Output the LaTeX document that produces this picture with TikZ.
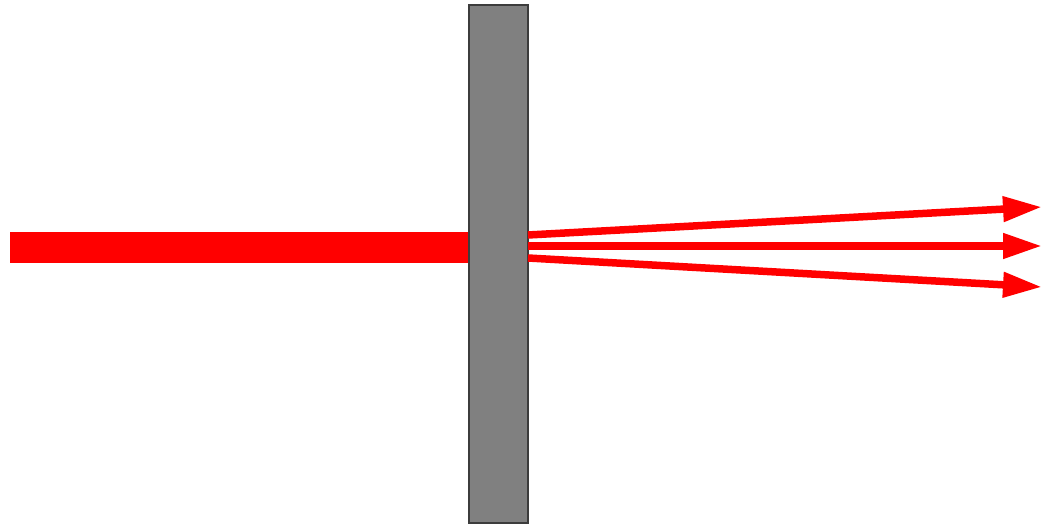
\documentclass[tikz,border=0pt]{standalone}
\usetikzlibrary{arrows.meta}

\definecolor{lame}{RGB}{128,128,128}
\definecolor{bord}{RGB}{60,60,60}
\definecolor{rouge}{RGB}{255,0,0}

\tikzset{
  faisceau/.style={draw=none, fill=rouge},
  rayon/.style={rouge, line width=0.15cm,
    -{Triangle[length=0.78cm,width=0.48cm]}}
}

\begin{document}
\begin{tikzpicture}[scale=1]
\useasboundingbox (0,0) rectangle (21.06,10.5);

% Faisceau incident
\fill[faisceau] (0.2,5.24) rectangle (9.4,5.86);

% Lame
\draw[fill=lame, draw=bord, semithick] (9.38,0.04) rectangle (10.56,10.4);

% Sorties
\coordinate (s1) at (10.56,5.80);
\coordinate (s2) at (10.56,5.58);
\coordinate (s3) at (10.56,5.34);
\coordinate (t1) at (20.84,6.36);
\coordinate (t2) at (20.84,5.58);
\coordinate (t3) at (20.84,4.76);

\draw[rayon] (s1) -- (t1);
\draw[rayon] (s2) -- (t2);
\draw[rayon] (s3) -- (t3);

\end{tikzpicture}
\end{document}
